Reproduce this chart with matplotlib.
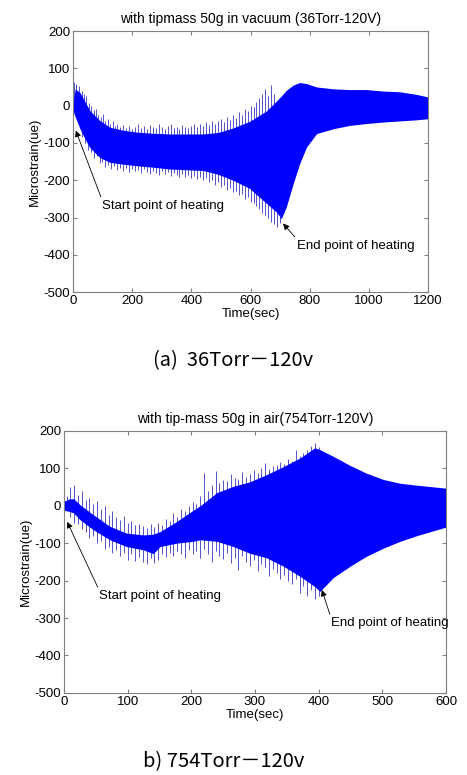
import matplotlib
matplotlib.use("Agg")
import matplotlib.pyplot as plt
import numpy as np

plt.rcParams['font.family'] = ['Liberation Sans', 'DejaVu Sans']
plt.rcParams['axes.unicode_minus'] = False

# (a) 36 Torr - envelope of the strain signal
t1 = [0, 8, 24, 45, 57, 91, 125, 170, 215, 270, 328, 385, 440, 490, 541, 597, 654, 687, 704,
      721, 744, 766, 789, 823, 879, 935, 992, 1048, 1104, 1161, 1200]
up1 = [5, 45, 35, 5, -13, -40, -58, -66, -71, -74, -76, -76, -76, -72, -60, -42, -14, 12, 26,
       41, 55, 62, 59, 50, 45, 43, 43, 39, 37, 30, 23]
lo1 = [-12, -30, -62, -95, -112, -139, -152, -157, -161, -165, -170, -172, -174, -184, -200, -222, -262, -285, -303,
       -271, -209, -155, -111, -75, -62, -53, -48, -44, -41, -38, -35]

# (a) single cycles poking out above / below the envelope
spk1u_t = [5, 12, 20, 30, 38, 46, 54, 62, 70, 78, 86, 94, 102, 110, 118, 126, 134, 142, 150,
           160, 170, 180, 190, 200, 210, 220, 230, 240, 250, 260, 270, 280, 290, 300, 310, 320, 330, 340, 350,
           360, 370, 380, 390, 400, 410, 420, 430, 440, 450, 460, 470, 480, 490, 500, 510, 520, 530, 540, 550,
           560, 570, 580, 590, 600, 610, 620, 630, 640, 650, 660, 670, 680]
spk1u = [62, 58, 52, 40, 30, 25, 8, 0, -12, -8, -25, -30, -22, -40, -35, -48, -42, -55, -50,
         -58, -52, -60, -54, -62, -57, -50, -60, -55, -63, -52, -58, -61, -50, -56, -62, -55, -49, -60, -57,
         -63, -52, -58, -60, -54, -50, -58, -48, -55, -45, -52, -40, -48, -42, -36, -45, -30, -38, -25, -32,
         -18, -25, -10, -15, 0, -5, 10, 20, 30, 45, 25, 55, 30]
spk1l_t = [30, 40, 50, 60, 70, 80, 90, 100, 110, 120, 130, 140, 150, 160, 170, 180, 190, 200, 210, 220,
           230, 240, 250, 260, 270, 280, 290, 300, 310, 320, 330, 340, 350, 360, 370, 380, 390, 400, 410, 420,
           430, 440, 450, 460, 470, 480, 490, 500, 510, 520, 530, 540, 550, 560, 570, 580, 590, 600, 610, 620,
           630, 640, 650, 660, 670, 680, 690, 700]
spk1l = [-85, -100, -120, -125, -140, -135, -155, -150, -165, -160, -170, -163, -172, -168, -175, -166, -178, -170, -176, -172,
         -180, -170, -177, -182, -174, -180, -185, -176, -183, -178, -188, -180, -186, -192, -182, -190, -186, -194, -188, -196,
         -192, -200, -195, -205, -200, -212, -206, -218, -214, -225, -220, -232, -228, -240, -236, -250, -246, -258, -262, -270,
         -278, -288, -292, -300, -312, -318, -325, -315]

# (b) 754 Torr
t2 = [0, 8, 15, 25, 46, 72, 98, 125, 140, 151, 177, 203, 214, 240, 266, 292, 318, 345, 371, 394,
      402, 423, 449, 475, 502, 528, 554, 600]
up2 = [12, 18, 19, 3, -24, -55, -73, -78, -76, -69, -42, -12, 0, 35, 52, 64, 83, 105, 128, 155,
       150, 132, 108, 87, 70, 60, 55, 47]
lo2 = [-12, -15, -19, -37, -64, -91, -109, -118, -128, -109, -100, -95, -91, -95, -109, -127, -139, -162, -189, -216,
       -229, -192, -162, -135, -113, -95, -80, -57]

spk2u_t = [5, 10, 16, 22, 28, 34, 40, 46, 52, 58, 64, 70, 76, 82, 88, 94, 100, 106, 112, 118, 124, 130,
           136, 142, 148, 154, 160, 166, 172, 178, 184, 190, 196, 202, 208, 214, 220, 226, 232, 238, 244, 250,
           256, 262, 268, 274, 280, 286, 292, 298, 304, 310, 316, 322, 328, 334, 340, 346, 352, 358, 364, 370,
           376, 382, 388, 394, 400]
spk2u = [25, 50, 56, 30, 40, 15, 22, 5, 12, -10, -2, -25, -15, -30, -38, -28, -45, -40, -52, -48, -55, -60,
         -50, -58, -45, -52, -35, -40, -20, -30, -10, -15, 0, 10, 5, 25, 88, 40, 55, 92, 60, 70,
         65, 85, 75, 72, 90, 78, 85, 95, 88, 100, 114, 98, 105, 110, 118, 112, 125, 120, 150, 132,
         140, 148, 160, 167, 158]
spk2l_t = [10, 16, 22, 28, 34, 40, 46, 52, 58, 64, 70, 76, 82, 88, 94, 100, 106, 112, 118, 124, 130,
           136, 142, 148, 154, 160, 166, 172, 178, 184, 190, 196, 202, 208, 214, 220, 226, 232, 238, 244, 250,
           256, 262, 268, 274, 280, 286, 292, 298, 304, 310, 316, 322, 328, 334, 340, 346, 352, 358, 364, 370,
           376, 382, 388, 394, 400]
spk2l = [-30, -45, -50, -62, -70, -85, -80, -100, -95, -115, -110, -126, -118, -135, -125, -144, -130, -148, -138, -150, -157,
         -140, -152, -145, -130, -138, -125, -135, -120, -128, -140, -118, -130, -122, -139, -115, -128, -150, -120, -135, -142,
         -125, -153, -140, -171, -135, -150, -160, -145, -175, -155, -165, -189, -170, -180, -195, -185, -200, -210, -195, -233,
         -215, -242, -225, -250, -240]

fig = plt.figure(figsize=(4.67, 7.75), dpi=100)
ax1 = fig.add_axes([0.156, 0.623, 0.761, 0.337])
ax2 = fig.add_axes([0.137, 0.106, 0.818, 0.338])


def draw_signal(ax, t, up, lo, ut, uy, lt, ly):
    mid = (np.array(up) + np.array(lo)) / 2
    # spikes start from the middle of the band, the band is drawn over them
    ax.vlines(ut, np.interp(ut, t, mid), uy, color='#3535c4', lw=0.6, zorder=1)
    ax.vlines(lt, ly, np.interp(lt, t, mid), color='#3535c4', lw=0.6, zorder=1)
    ax.fill_between(t, lo, up, color='#0000ff', lw=0, zorder=2)


def style(ax, xmax, xstep, title):
    ax.set_xlim(0, xmax)
    ax.set_ylim(-500, 200)
    ax.set_xticks(np.arange(0, xmax + 1, xstep))
    ax.set_yticks(np.arange(-500, 201, 100))
    ax.tick_params(direction='in', top=True, right=True, labelsize=9.5, length=3,
                   color='#808080', pad=2)
    for s in ax.spines.values():
        s.set_color('#808080')
        s.set_linewidth(0.8)
    ax.set_title(title, fontsize=10, pad=6)
    ax.set_xlabel('Time(sec)', fontsize=9.5, labelpad=1)
    ax.set_ylabel('Microstrain(ue)', fontsize=9.5, labelpad=2)


arrow = dict(arrowstyle='-|>', color='k', lw=0.6, mutation_scale=9, shrinkA=0, shrinkB=0,
             relpos=(0, 1))

draw_signal(ax1, t1, up1, lo1, spk1u_t, spk1u, spk1l_t, spk1l)
style(ax1, 1200, 200, 'with tipmass 50g in vacuum (36Torr-120V)')
ax1.annotate('Start point of heating', xy=(10, -67), xytext=(98, -268), fontsize=9.5,
             va='center', ha='left', arrowprops=arrow)
ax1.annotate('End point of heating', xy=(710, -316), xytext=(757, -375), fontsize=9.5,
             va='center', ha='left', arrowprops=arrow)

draw_signal(ax2, t2, up2, lo2, spk2u_t, spk2u, spk2l_t, spk2l)
style(ax2, 600, 100, 'with tip-mass 50g in air(754Torr-120V)')
ax2.annotate('Start point of heating', xy=(5, -43), xytext=(55, -241), fontsize=9.5,
             va='center', ha='left', arrowprops=arrow)
ax2.annotate('End point of heating', xy=(405, -225), xytext=(419, -313), fontsize=9.5,
             va='center', ha='left', arrowprops=arrow, annotation_clip=False)

cap = ['Noto Sans CJK KR', 'DejaVu Sans']
fig.text(0.499, 0.535, '(a)  36Torr\uff0d120v', family=cap, fontsize=14.5, ha='center', va='center')
fig.text(0.478, 0.017, 'b) 754Torr\uff0d120v', family=cap, fontsize=14.5, ha='center', va='center')

fig.savefig('out.png', dpi=100)
